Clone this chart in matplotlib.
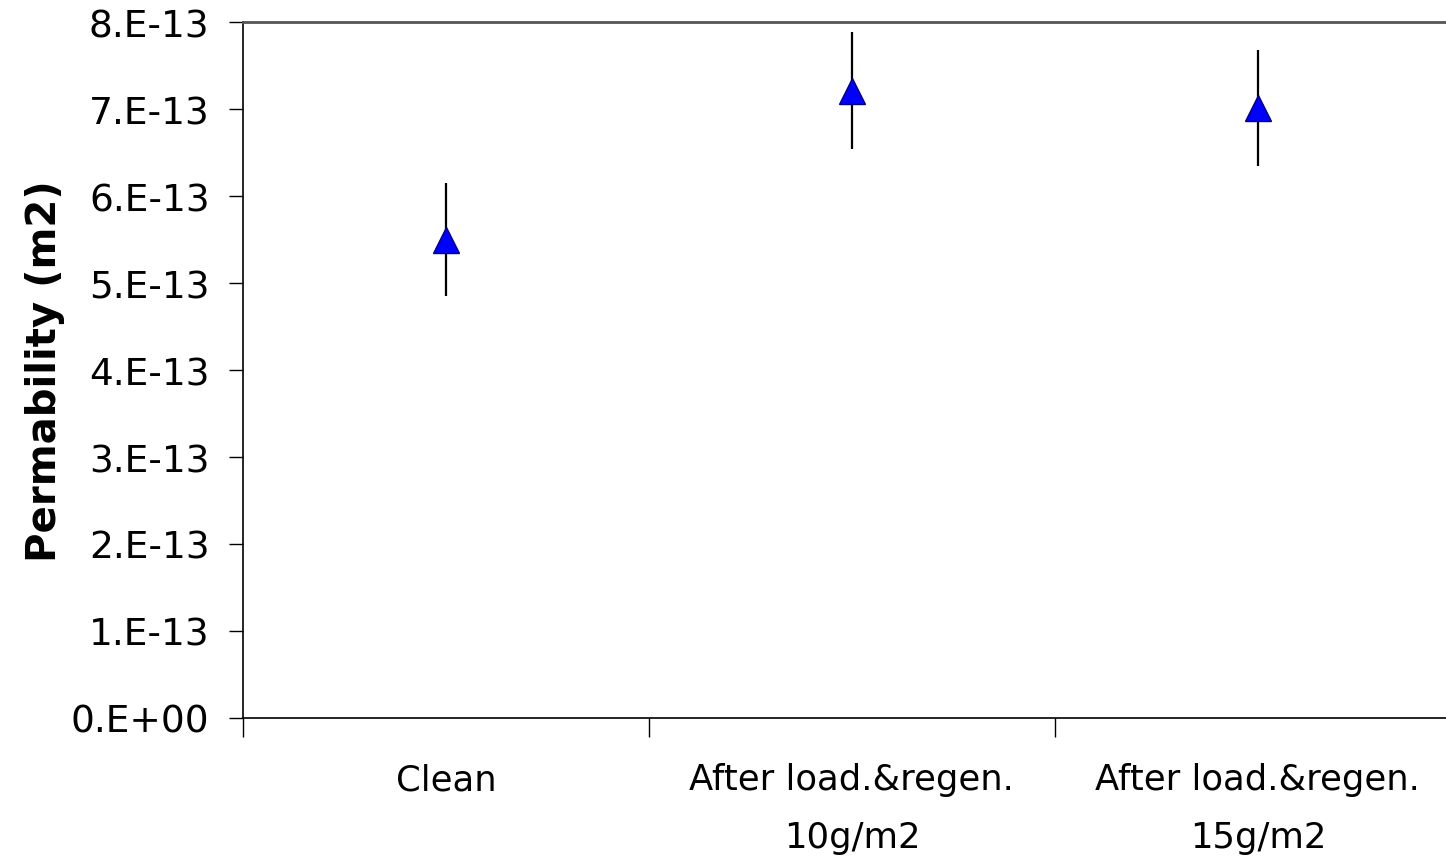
import matplotlib.pyplot as plt
import numpy as np

categories = ["Clean", "After load.&regen.\n10g/m2", "After load.&regen.\n15g/m2"]
permeability = [5.50e-13, 7.21e-13, 7.01e-13]
err = [0.65e-13, 0.67e-13, 0.67e-13]
yticks = [0, 1e-13, 2e-13, 3e-13, 4e-13, 5e-13, 6e-13, 7e-13, 8e-13]
ytick_labels = ["0.E+00", "1.E-13", "2.E-13", "3.E-13", "4.E-13", "5.E-13", "6.E-13", "7.E-13", "8.E-13"]

plt.rcParams["font.family"] = ["DejaVu Sans"]

fig = plt.figure(figsize=(14.46, 8.62), dpi=100)
ax = fig.add_axes([0.168, 0.1659, 0.8423, 0.8074])

x = np.arange(1, len(categories) + 1)
ax.errorbar(x, permeability, yerr=err, fmt="none", ecolor="black", elinewidth=1.6, capsize=0, zorder=2)
ax.plot(x, permeability, ls="none", marker="^", ms=19, mfc="#0000ff", mec="#000080", mew=1, zorder=3)

ax.set_xlim(0.5, 3.5)
ax.set_ylim(0, 8e-13)
ax.set_yticks(yticks)
ax.set_yticklabels(ytick_labels, fontsize=27)
ax.set_xticks([0.5, 1.5, 2.5, 3.5])
ax.set_xticklabels([])
ax.set_xticks(x, minor=True)
ax.set_xticklabels(categories, minor=True, fontsize=25.5, linespacing=1.86)
ax.tick_params(axis="x", which="minor", length=0, pad=32)
ax.tick_params(axis="x", which="major", length=14, width=1, direction="out")
ax.tick_params(axis="y", length=10, width=1, direction="out", pad=14)

ax.set_ylabel("Permability (m2)", fontsize=29, fontweight="bold", labelpad=4)

ax.spines["right"].set_visible(False)
ax.spines["top"].set_color("#555555")
ax.spines["top"].set_linewidth(2)
ax.spines["left"].set_linewidth(1.2)
ax.spines["bottom"].set_linewidth(1.2)

fig.savefig("out.png", dpi=100)
